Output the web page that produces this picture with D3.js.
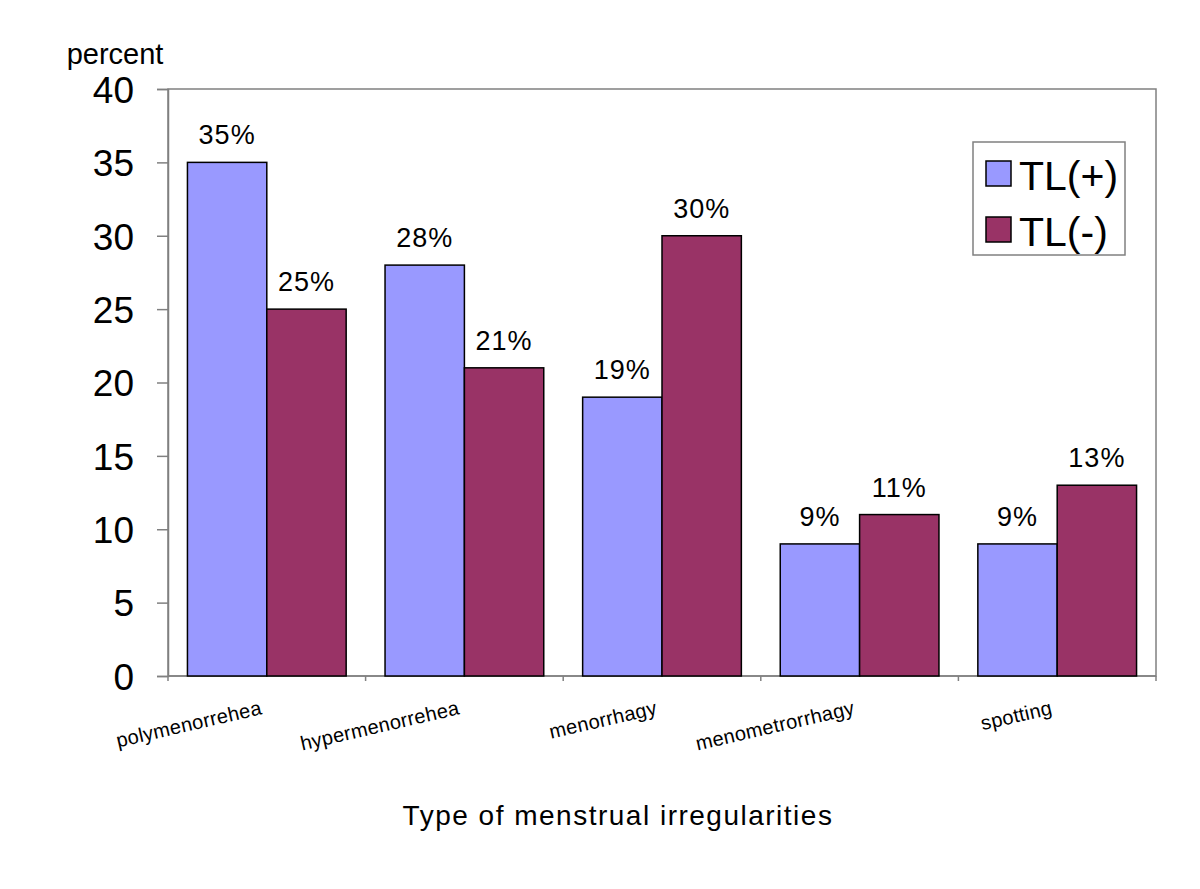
<!DOCTYPE html>
<html><head><meta charset="utf-8">
<script src="https://cdn.jsdelivr.net/npm/d3@7"></script>
<style>body{margin:0;background:#fff}svg{display:block}text{font-family:"Liberation Sans",Arial,sans-serif;fill:#000}</style>
</head><body>
<script>
const categories = ["polymenorrehea","hypermenorrehea","menorrhagy","menometrorrhagy","spotting"];
const seriesNames = ["TL(+)","TL(-)"];
const tlPlus = [35,28,19,9,9];
const tlMinus = [25,21,30,11,13];
const yTicks = [0,5,10,15,20,25,30,35,40];
const colors = ["#9999FF","#993366"];

const W=1200,H=889;
const m={left:168,right:1156,top:89,bottom:676};
const svg=d3.select("body").append("svg").attr("width",W).attr("height",H);

const x=d3.scaleBand().domain(categories).range([m.left,m.right]).paddingInner(0).paddingOuter(0);
const xs=d3.scaleBand().domain(seriesNames).range([0,x.bandwidth()]).paddingInner(0).paddingOuter(0.245);
const y=d3.scaleLinear().domain([0,40]).range([m.bottom,m.top]);

// frame
svg.append("rect").attr("x",m.left).attr("y",m.top).attr("width",m.right-m.left).attr("height",m.bottom-m.top)
  .attr("fill","none").attr("stroke","#808080").attr("stroke-width",1.5);

// y axis
const ya=svg.append("g").attr("transform",`translate(${m.left},0)`)
  .call(d3.axisLeft(y).tickValues(yTicks).tickSize(11).tickPadding(23).tickFormat(d3.format("d")));
ya.select(".domain").attr("stroke","#808080").attr("stroke-width",1.5);
ya.selectAll(".tick line").attr("stroke","#808080").attr("stroke-width",1.5);
ya.selectAll(".tick text").attr("font-size",37).attr("dy","0.36em").style("font-family",'"Liberation Sans",Arial,sans-serif');

// x axis ticks at boundaries
const bounds=categories.map(c=>x(c)).concat([m.right]);
svg.append("g").selectAll("line").data(bounds).join("line")
  .attr("x1",d=>d).attr("x2",d=>d).attr("y1",m.bottom).attr("y2",m.bottom+5)
  .attr("stroke","#808080").attr("stroke-width",1.5);
svg.append("line").attr("x1",m.left).attr("x2",m.right).attr("y1",m.bottom).attr("y2",m.bottom)
  .attr("stroke","#808080").attr("stroke-width",1.5);

// bars
const data=categories.map((c,i)=>({c,vals:[tlPlus[i],tlMinus[i]]}));
const g=svg.append("g").selectAll("g").data(data).join("g").attr("transform",d=>`translate(${x(d.c)},0)`);
g.selectAll("rect").data(d=>d.vals.map((v,j)=>({v,s:seriesNames[j],j}))).join("rect")
  .attr("x",d=>xs(d.s)).attr("width",xs.bandwidth()).attr("y",d=>y(d.v)).attr("height",d=>y(0)-y(d.v))
  .attr("fill",d=>colors[d.j]).attr("stroke","#000").attr("stroke-width",1.5);
g.selectAll("text").data(d=>d.vals.map((v,j)=>({v,s:seriesNames[j],j}))).join("text")
  .attr("x",d=>xs(d.s)+xs.bandwidth()/2).attr("y",d=>y(d.v)-18)
  .attr("text-anchor","middle").attr("font-size",27).attr("letter-spacing",1).text(d=>d.v+"%");

// x labels
svg.append("g").selectAll("text").data(categories).join("text")
  .attr("transform",d=>`translate(${x(d)+x.bandwidth()/2-4},714) rotate(-13)`)
  .attr("text-anchor","end").attr("font-size",20).attr("letter-spacing",0.3).text(d=>d);

// axis titles
svg.append("text").attr("x",618).attr("y",825).attr("text-anchor","middle").attr("font-size",28).attr("letter-spacing",1.5)
  .text("Type of menstrual irregularities");
svg.append("text").attr("x",115).attr("y",64).attr("text-anchor","middle").attr("font-size",29).text("percent");

// legend
const lg=svg.append("g");
lg.append("rect").attr("x",973).attr("y",142).attr("width",152).attr("height",113).attr("fill","#fff").attr("stroke","#808080").attr("stroke-width",1.5);
const li=lg.selectAll("g").data(seriesNames).join("g").attr("transform",(d,i)=>`translate(986,${161+i*56})`);
li.append("rect").attr("width",25).attr("height",25).attr("fill",(d,i)=>colors[i]).attr("stroke","#000").attr("stroke-width",1.5);
li.append("text").attr("x",33).attr("y",29).attr("font-size",41).text(d=>d);
</script>
</body></html>
